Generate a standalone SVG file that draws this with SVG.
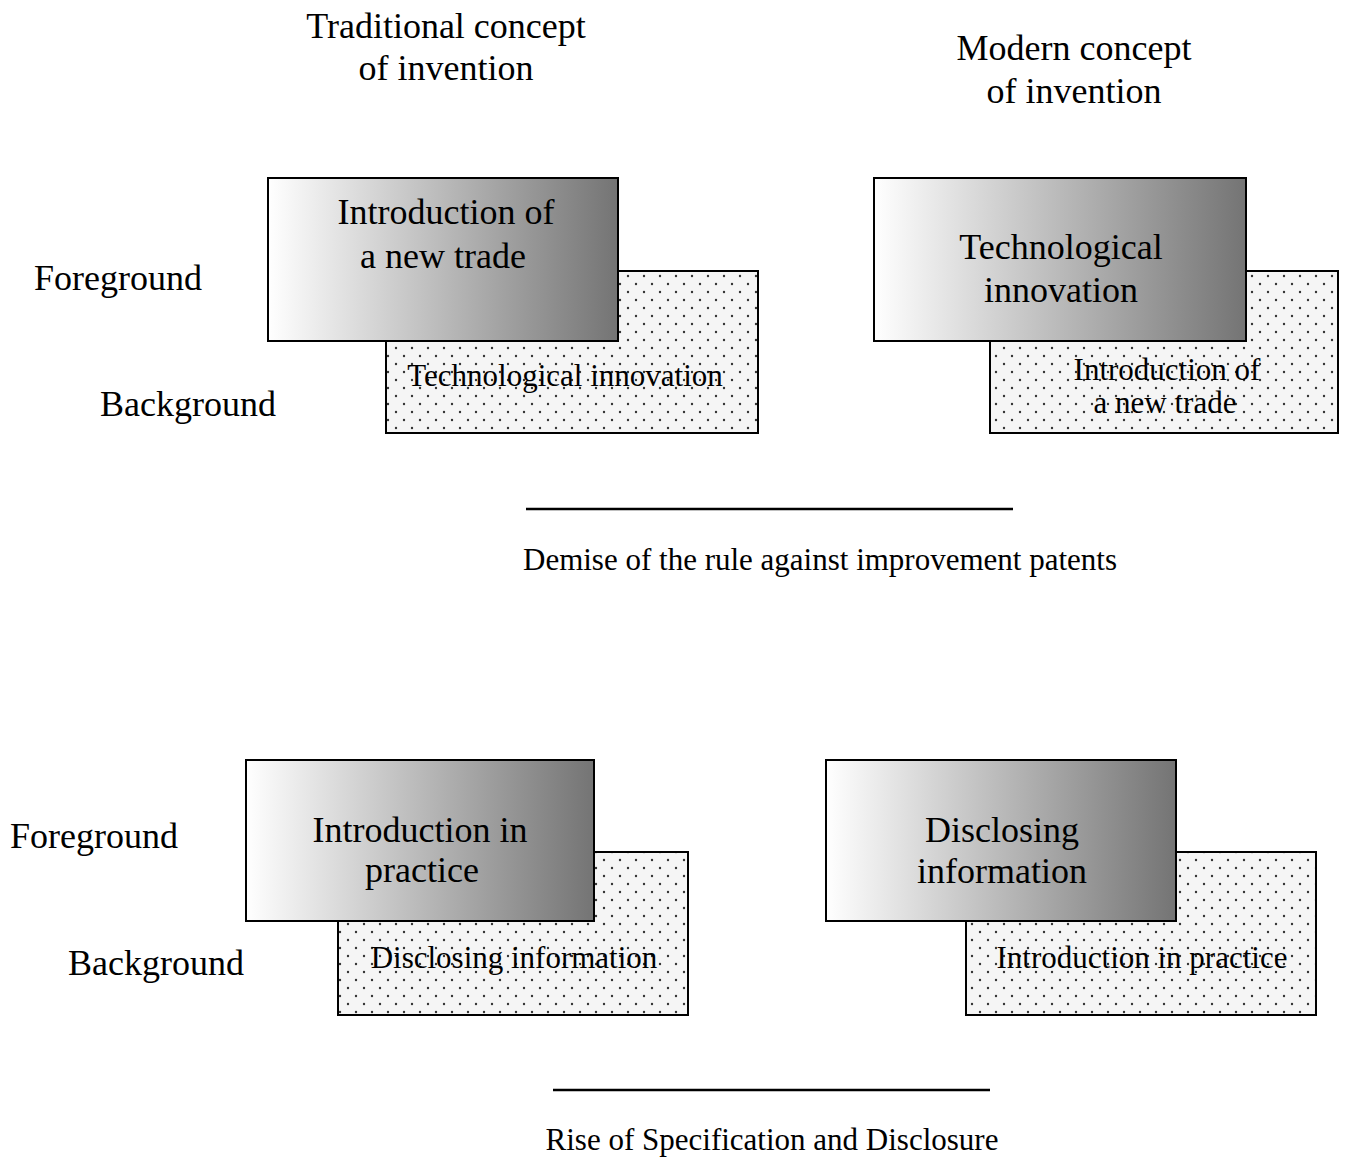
<svg xmlns="http://www.w3.org/2000/svg" width="1348" height="1158" viewBox="0 0 1348 1158">
<defs>
<linearGradient id="grad" x1="0" y1="0" x2="1" y2="0">
<stop offset="0" stop-color="#ffffff"/>
<stop offset="1" stop-color="#747474"/>
</linearGradient>
<pattern id="dots" width="16" height="16" patternUnits="userSpaceOnUse">
<rect width="16" height="16" fill="#f5f5f5"/>
<circle cx="4" cy="4" r="1.2" fill="#333"/>
<circle cx="12" cy="12" r="1.2" fill="#333"/>
</pattern>
</defs>
<style>
text{font-family:"Liberation Serif","Times New Roman",serif;fill:#000;text-anchor:middle}
.big{font-size:36px}
.small{font-size:31px}
.side{font-size:36px;text-anchor:start}
.front{fill:url(#grad);stroke:#000;stroke-width:2}
.back{fill:url(#dots);stroke:#000;stroke-width:2}
.rule{stroke:#000;stroke-width:2.5}
</style>
<rect width="1348" height="1158" fill="#fff"/>

<g id="titles">
<text class="big" x="446" y="38">Traditional concept</text>
<text class="big" x="446" y="80">of invention</text>
<text class="big" x="1074" y="60">Modern concept</text>
<text class="big" x="1074" y="103">of invention</text>
</g>

<g id="labels-top">
<text class="side" x="34" y="290">Foreground</text>
<text class="side" x="100" y="416">Background</text>
</g>
<g id="labels-bottom">
<text class="side" x="10" y="848">Foreground</text>
<text class="side" x="68" y="975">Background</text>
</g>

<g id="tl-back">
<rect class="back" x="386" y="271" width="372" height="162"/>
<text class="small" x="565" y="386">Technological innovation</text>
</g>
<g id="tl-front">
<rect class="front" x="268" y="178" width="350" height="163"/>
<text class="big" x="446" y="224">Introduction of</text>
<text class="big" x="443" y="268">a new trade</text>
</g>

<g id="tr-back">
<rect class="back" x="990" y="271" width="348" height="162"/>
<text class="small" x="1167" y="380">Introduction of</text>
<text class="small" x="1165" y="413">a new trade</text>
</g>
<g id="tr-front">
<rect class="front" x="874" y="178" width="372" height="163"/>
<text class="big" x="1061" y="259">Technological</text>
<text class="big" x="1061" y="302">innovation</text>
</g>

<g id="bl-back">
<rect class="back" x="338" y="852" width="350" height="163"/>
<text class="small" x="514" y="968">Disclosing information</text>
</g>
<g id="bl-front">
<rect class="front" x="246" y="760" width="348" height="161"/>
<text class="big" x="420" y="842">Introduction in</text>
<text class="big" x="422" y="882">practice</text>
</g>

<g id="br-back">
<rect class="back" x="966" y="852" width="350" height="163"/>
<text class="small" x="1142" y="968">Introduction in practice</text>
</g>
<g id="br-front">
<rect class="front" x="826" y="760" width="350" height="161"/>
<text class="big" x="1002" y="842">Disclosing</text>
<text class="big" x="1002" y="883">information</text>
</g>

<g id="connectors">
<line class="rule" x1="526" y1="509" x2="1013" y2="509"/>
<line class="rule" x1="553" y1="1090" x2="990" y2="1090"/>
</g>

<g id="captions">
<text class="small" x="820" y="570">Demise of the rule against improvement patents</text>
<text class="small" x="772" y="1150">Rise of Specification and Disclosure</text>
</g>
</svg>
